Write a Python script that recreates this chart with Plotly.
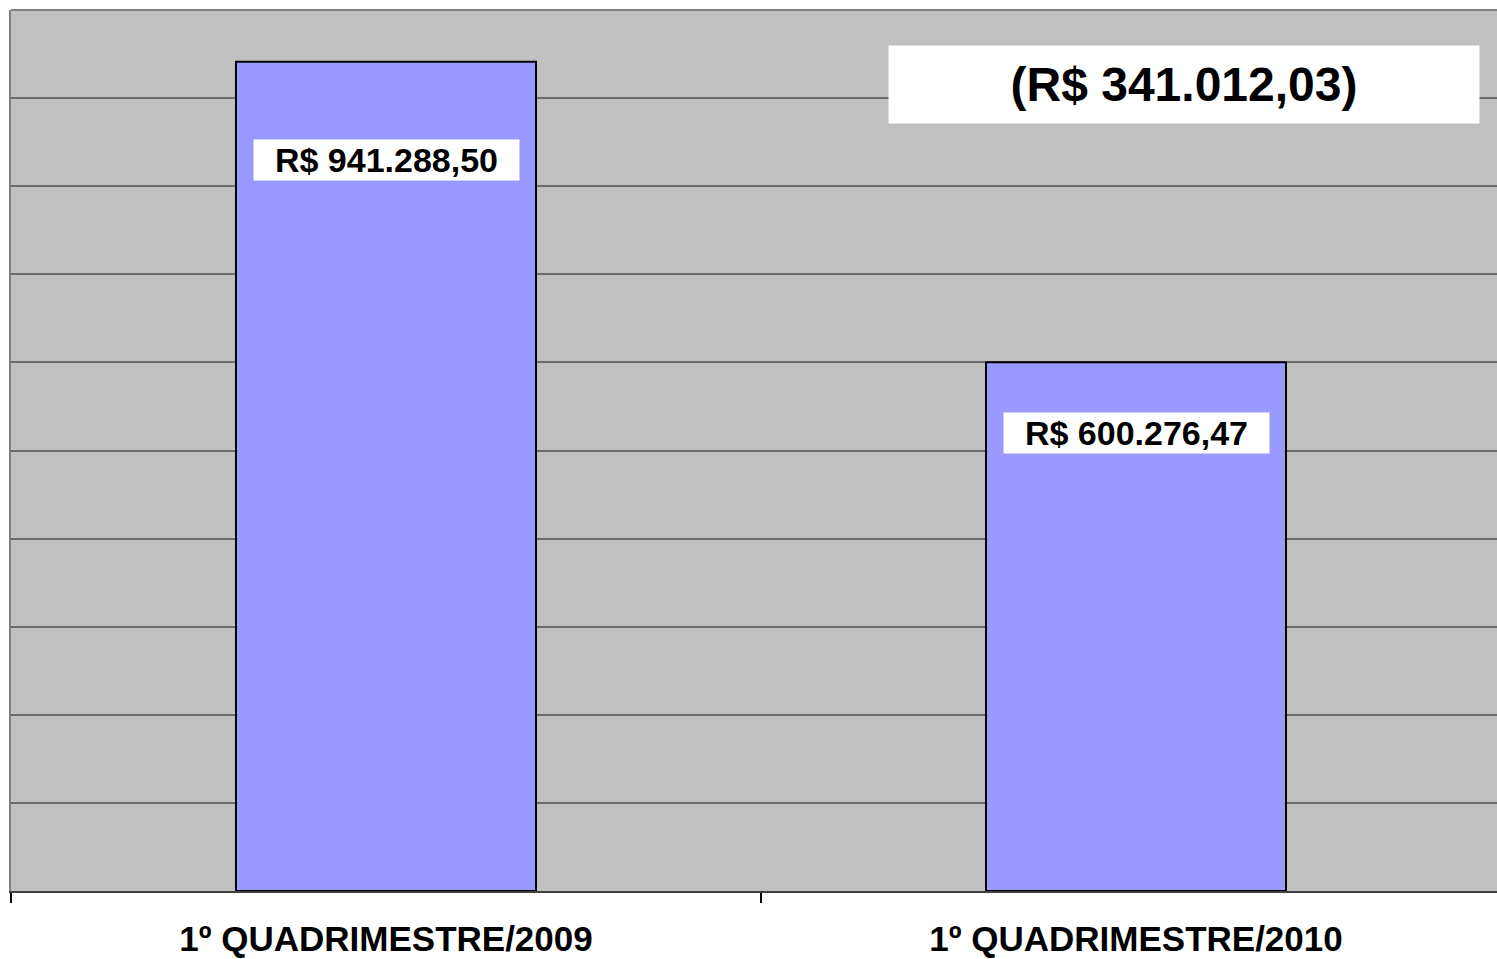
import plotly.graph_objects as go

# ── Data ─────────────────────────────────────────────────────────
categories = ["1º QUADRIMESTRE/2009", "1º QUADRIMESTRE/2010"]
values = [941288.50, 600276.47]
label_offsets = [111500, 80400]   # label box centre below bar top


def brl(v):
    s = f"{v:,.2f}"
    return "R$ " + s.replace(",", "X").replace(".", ",").replace("X", ".")


diff = values[0] - values[1]

W, H = 1497, 959
FONT = "Liberation Sans, Arial, sans-serif"

fig = go.Figure()
fig.add_trace(go.Bar(
    x=categories, y=values, width=0.4,
    marker=dict(color="#9999FF", line=dict(color="#000000", width=2)),
    hoverinfo="skip",
))

annotations = []
for cat, v, off in zip(categories, values, label_offsets):
    annotations.append(dict(
        x=cat, y=v - off, xref="x", yref="y",
        xanchor="center", yanchor="middle",
        text=brl(v), showarrow=False,
        font=dict(family=FONT, size=34, color="#000000", weight="bold"),
        bgcolor="#FFFFFF", width=265, height=40, borderpad=0,
    ))

annotations.append(dict(
    x=0.7894, y=0.9154, xref="paper", yref="paper",
    xanchor="center", yanchor="middle",
    text=f"({brl(diff)})", showarrow=False,
    font=dict(family=FONT, size=48, color="#000000", weight="bold"),
    bgcolor="#FFFFFF", width=590, height=77, borderpad=0,
))

fig.update_layout(
    width=W, height=H,
    margin=dict(l=11, r=0, t=10, b=68),
    paper_bgcolor="#FFFFFF", plot_bgcolor="#C0C0C0",
    showlegend=False,
    xaxis=dict(
        type="category", range=[-0.5, -0.5 + 1486 / 750],
        automargin=False,
        showgrid=False, zeroline=False,
        showline=True, linecolor="#404040", linewidth=2,
        ticks="outside", tickson="boundaries", ticklen=10,
        tickcolor="#000000", tickwidth=1.5,
        ticklabelstandoff=16,
        tickfont=dict(family=FONT, size=35, color="#000000", weight="bold"),
    ),
    yaxis=dict(
        range=[0, 1000000], dtick=100000, tick0=0, automargin=False,
        showgrid=True, gridcolor="#6A6A6A", gridwidth=1.5,
        zeroline=False, showticklabels=False,
        showline=True, linecolor="#808080", linewidth=2,
    ),
    shapes=[dict(
        type="line", xref="paper", yref="paper", x0=0, x1=1, y0=1, y1=1,
        line=dict(color="#808080", width=2),
    )],
    annotations=annotations,
)

fig.write_html(
    "out.html",
    config={"displayModeBar": False},
    post_script="document.body.style.margin='0';document.body.style.overflow='hidden';",
)
